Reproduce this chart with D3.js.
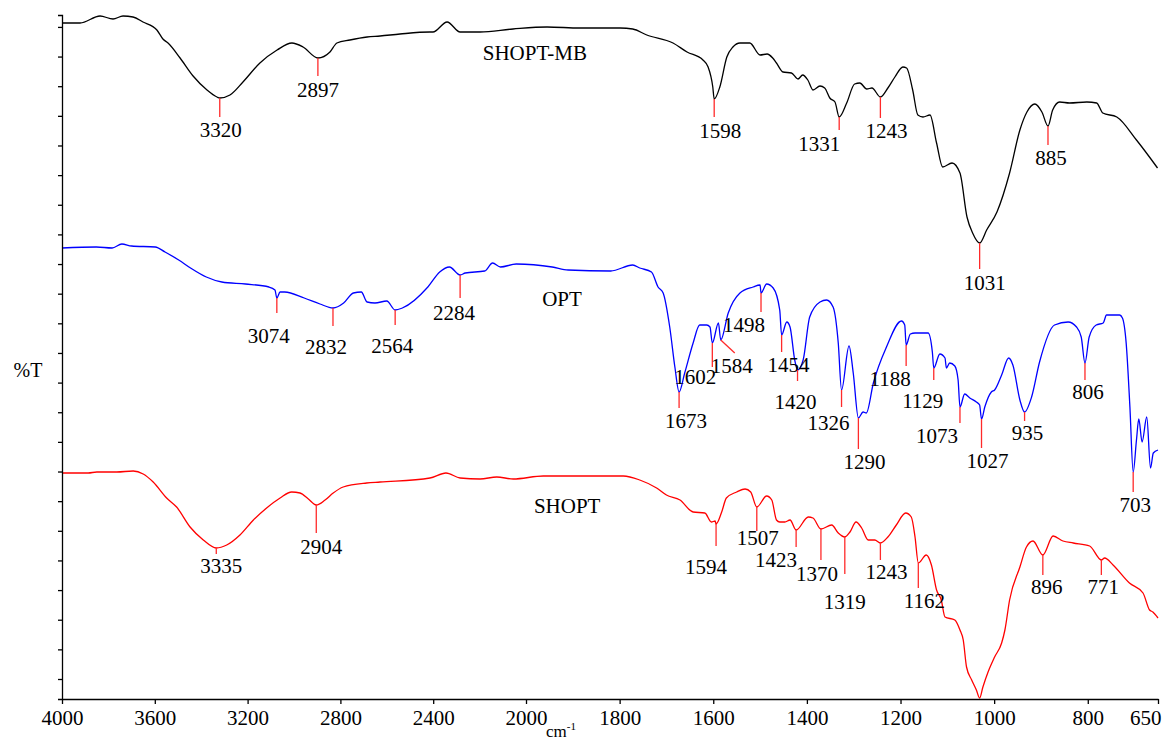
<!DOCTYPE html>
<html>
<head>
<meta charset="utf-8">
<script src="https://cdn.jsdelivr.net/npm/d3@7"></script>
<style>
  body { margin: 0; background: #fff; }
  svg { display: block; }
  svg text { font-family: "Liberation Serif", "Tinos", "Times New Roman", "DejaVu Serif", serif; fill: #000; }
</style>
</head>
<body>
<div id="chart"></div>
<script>
// FTIR spectra, wavenumber (cm-1) vs %T (offset, arbitrary units)
const xTickValues = [4000, 3600, 3200, 2800, 2400, 2000, 1800, 1600, 1400, 1200, 1000, 800, 650];
const yTickStep = 29.64;

// SHOPT-MB (black)
const shoptMB = [
  [4000,676],[3922,676],[3836,683],[3780,680],[3737,683],[3694,682],[3651,677],[3591,669],
  [3565,660],[3543,656],[3491,641],[3435,623],[3375,609],[3332,602],[3320,601],[3276,604],
  [3220,617],[3147,636],[3073,649],[3009,656],[2961,652],[2897,641],[2845,647],[2815,656],
  [2759,659],[2685,662],[2629,663],[2543,665],[2414,667],[2401,667],[2340,677],[2284,667],
  [2198,667],[2056,670],[1955,672],[1885,671],[1799,671],[1772,670],[1742,664],[1686,656],
  [1656,647],[1622,639],[1611,632],[1601,612],[1598,600],[1586,612],[1571,642],[1558,652],
  [1543,656],[1522,656],[1500,644],[1485,645],[1473,641],[1465,636],[1451,627],[1433,626],
  [1419,620],[1409,624],[1398,619],[1387,609],[1372,613],[1362,611],[1351,601],[1340,597],
  [1331,582],[1315,596],[1298,615],[1287,616],[1272,610],[1261,611],[1243,602],[1227,611],
  [1212,622],[1195,632],[1187,631],[1174,609],[1163,584],[1152,582],[1137,584],[1123,556],
  [1110,532],[1090,536],[1073,526],[1058,482],[1046,466],[1031,456],[1016,469],[994,487],
  [967,526],[945,569],[930,587],[913,595],[898,587],[885,573],[875,589],[860,597],
  [839,596],[802,597],[781,596],[768,586],[738,582],[696,559],[651,531]
];

// OPT (blue)
const opt = [
  [4000,451],[3852,452],[3784,451],[3742,455],[3700,453],[3598,452],[3556,447],[3497,439],
  [3446,431],[3378,422],[3311,417],[3209,415],[3108,412],[3082,409],[3074,401],[3060,407],
  [3040,407],[2956,401],[2888,395],[2832,391],[2786,396],[2744,406],[2710,407],[2685,397],
  [2651,396],[2600,398],[2564,389],[2533,391],[2423,412],[2372,427],[2330,432],[2284,424],
  [2262,426],[2178,428],[2144,436],[2110,432],[2042,435],[1944,432],[1910,429],[1819,428],
  [1772,434],[1757,431],[1732,427],[1718,412],[1707,406],[1693,372],[1682,332],[1673,307],
  [1661,326],[1643,356],[1629,374],[1614,374],[1607,372],[1602,356],[1589,376],[1584,359],
  [1568,386],[1543,406],[1515,412],[1500,414],[1498,406],[1486,415],[1472,411],[1458,389],
  [1454,364],[1443,377],[1436,372],[1426,339],[1420,329],[1408,339],[1394,382],[1372,397],
  [1358,399],[1344,392],[1333,356],[1326,309],[1310,353],[1301,326],[1290,281],[1280,287],
  [1273,286],[1258,316],[1230,352],[1198,378],[1191,374],[1188,354],[1179,365],[1169,366],
  [1141,366],[1132,347],[1129,331],[1116,345],[1105,341],[1102,331],[1095,336],[1084,333],
  [1077,319],[1073,292],[1063,305],[1052,301],[1038,297],[1031,294],[1027,280],[1020,292],
  [1006,307],[999,309],[984,324],[969,341],[960,334],[945,299],[935,287],[920,302],
  [903,337],[871,374],[842,377],[824,372],[814,362],[806,336],[797,362],[782,374],
  [767,376],[760,384],[732,384],[726,381],[718,356],[710,292],[703,227],[696,259],
  [691,280],[684,257],[674,282],[666,231],[660,246],[650,249]
];

// SHOPT (red)
const shopt = [
  [4000,226],[3887,226],[3850,227],[3764,227],[3693,228],[3650,225],[3607,217],[3549,201],
  [3506,192],[3448,172],[3391,159],[3335,151],[3290,154],[3233,164],[3175,179],[3118,191],
  [3060,201],[3010,207],[2974,206],[2938,200],[2904,194],[2866,199],[2831,206],[2788,212],
  [2687,216],[2629,217],[2414,221],[2345,226],[2284,221],[2198,220],[2126,222],[2055,220],
  [1963,223],[1792,223],[1757,219],[1721,211],[1700,204],[1671,199],[1643,187],[1618,186],
  [1604,177],[1596,178],[1594,175],[1582,187],[1572,201],[1550,207],[1532,210],[1520,207],
  [1507,192],[1486,203],[1475,199],[1465,179],[1458,177],[1447,177],[1436,179],[1423,169],
  [1397,182],[1387,181],[1370,170],[1347,174],[1333,166],[1319,162],[1308,167],[1295,177],
  [1283,171],[1269,159],[1255,159],[1243,156],[1227,162],[1209,174],[1189,186],[1177,182],
  [1169,162],[1162,136],[1145,144],[1134,134],[1123,109],[1113,99],[1105,82],[1084,79],
  [1073,69],[1066,59],[1059,32],[1048,19],[1038,9],[1031,1],[1024,12],[1013,27],
  [999,42],[984,56],[977,69],[967,99],[945,132],[931,152],[917,158],[896,144],
  [874,163],[853,158],[831,156],[796,153],[771,139],[764,141],[746,134],[711,116],
  [682,106],[668,89],[661,87],[650,81]
];

// labelled peak positions (cm-1)
const shoptMBPeaks = [3320, 2897, 1598, 1331, 1243, 1031, 885];
const optPeaks = [3074, 2832, 2564, 2284, 1673, 1602, 1584, 1498, 1454, 1420, 1326, 1290,
                  1188, 1129, 1073, 1027, 935, 806, 703];
const shoptPeaks = [3335, 2904, 1594, 1507, 1423, 1370, 1319, 1243, 1162, 896, 771];

// marker layout: [line length, label dx, label dy below line end, optional leader [dx, dy]]
const shoptMBMarks = [[19,1,20],[18,0,21],[18,6,21],[13,-20,21],[21,6,20],[26,5,21],[19,3,20]];
const optMarks = [[15,-8,30],[18,-7,28],[15,-3,28],[23,-6,22],[16,7,20],[24,-17,17],
                  [0,11,20,[14,13]],[19,-17,20],[17,7,20],[11,-2,28],[17,-13,23],[31,6,20],
                  [21,-16,20],[12,-11,28],[16,-23,20],[29,6,20],[9,3,19],[17,3,19],[20,2,20]];
const shoptMarks = [[6,5,19],[28,5,21],[22,-10,28],[24,1,14],[17,-20,20],[31,-4,21],
                    [37,0,35],[17,6,19],[25,6,20],[20,4,19],[15,2,19]];

const seriesNames = ['SHOPT-MB', 'OPT', 'SHOPT'];
const seriesColors = ['#000000', '#0000ff', '#ff0000'];
// series name anchors [wavenumber, %T]
const nameAnchors = [[1981, 639], [1923, 393], [1912, 186]];

const width = 1167, height = 742;
const svg = d3.select('#chart').append('svg')
  .attr('width', width).attr('height', height);

// broken-scale wavenumber axis: 4000-2000 compressed to half density
const x = d3.scaleLinear().domain([4000, 2000, 650]).range([62, 526, 1158]);
const y = d3.scaleLinear().domain([0, 684]).range([699, 15]);

const line = d3.line()
  .x(d => x(d[0]))
  .y(d => y(d[1]))
  .curve(d3.curveMonotoneX);

function valueAt(data, wn) {
  for (let i = 0; i < data.length - 1; i++) {
    const a = data[i], b = data[i + 1];
    if (wn <= a[0] && wn >= b[0]) {
      const t = (a[0] - wn) / (a[0] - b[0]);
      return a[1] + t * (b[1] - a[1]);
    }
  }
  return data[data.length - 1][1];
}

const allSeries = [shoptMB, opt, shopt];
const allPeaks = [shoptMBPeaks, optPeaks, shoptPeaks];
const allMarks = [shoptMBMarks, optMarks, shoptMarks];

allSeries.forEach((data, i) => {
  svg.append('path')
    .datum(data)
    .attr('fill', 'none')
    .attr('stroke', seriesColors[i])
    .attr('stroke-width', 1.3)
    .attr('stroke-linejoin', 'round')
    .attr('d', line);

  svg.append('text')
    .attr('x', x(nameAnchors[i][0]))
    .attr('y', y(nameAnchors[i][1]))
    .attr('text-anchor', 'middle')
    .style('font-size', '21px')
    .text(seriesNames[i]);

  // peak markers
  const g = svg.append('g');
  allPeaks[i].forEach((wn, j) => {
    const m = allMarks[i][j];
    const px = x(wn);
    const top = y(valueAt(data, wn));
    let ex = px, ey = top + m[0];
    if (m[3]) { ex = px + m[3][0]; ey = top + m[3][1]; }
    g.append('line')
      .attr('x1', px).attr('y1', top)
      .attr('x2', ex).attr('y2', ey)
      .attr('stroke', '#ff2a2a')
      .attr('stroke-width', 1.3);
    g.append('text')
      .attr('x', px + m[1])
      .attr('y', ey + m[2])
      .attr('text-anchor', 'middle')
      .style('font-size', '21px')
      .text(wn);
  });
});

// axes
const xAxis = d3.axisBottom(x)
  .tickValues(xTickValues)
  .tickFormat(d3.format('d'))
  .tickSize(5)
  .tickSizeOuter(0)
  .tickPadding(6);

const gx = svg.append('g')
  .attr('transform', `translate(0,${y(0)})`)
  .call(xAxis);
gx.attr('font-family', null).attr('font-size', null);
gx.selectAll('text').style('font-size', '21px');
gx.selectAll('path, line').attr('stroke', '#000').attr('stroke-width', 1.3);
// last label (650) sits flush against the right edge
gx.selectAll('.tick').filter(d => d === 650).select('text')
  .attr('text-anchor', 'end').attr('x', 3);

const yTicks = d3.range(23).map(k => 20 + k * yTickStep);
const yAxis = d3.axisLeft(y)
  .tickValues(yTicks)
  .tickSize(4)
  .tickSizeOuter(4)
  .tickFormat('');

const gy = svg.append('g')
  .attr('transform', `translate(${x(4000)},0)`)
  .call(yAxis);
gy.selectAll('path, line').attr('stroke', '#000').attr('stroke-width', 1.3);

// axis titles
svg.append('text')
  .attr('x', 28).attr('y', 377)
  .attr('text-anchor', 'middle')
  .style('font-size', '20px')
  .text('%T');

const xt = svg.append('text')
  .attr('x', 546).attr('y', 737)
  .style('font-size', '17px');
xt.append('tspan').text('cm');
xt.append('tspan').attr('dy', -7).style('font-size', '11px').text('-1');
</script>
</body>
</html>
